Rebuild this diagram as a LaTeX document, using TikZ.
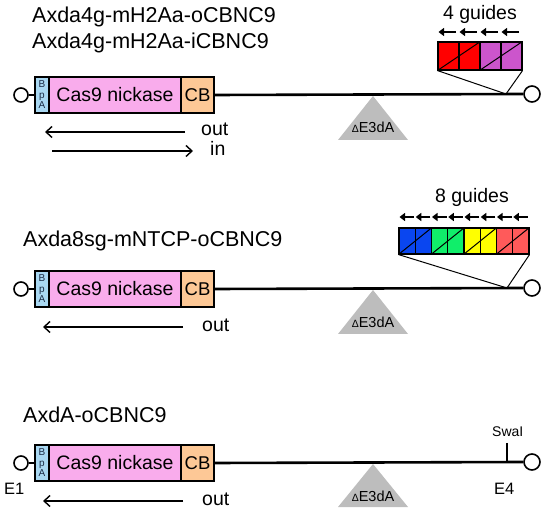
\documentclass[tikz,border=0pt]{standalone}
\usepackage{fontspec}
\setmainfont{Liberation Sans}
\usetikzlibrary{arrows.meta}
\definecolor{bpablue}{HTML}{A9D8F2}
\definecolor{bpatext}{HTML}{1A2A44}
\definecolor{caspink}{HTML}{F9ACEC}
\definecolor{cbpeach}{HTML}{FDC896}
\definecolor{trigray}{HTML}{BDBDBD}
\definecolor{gred}{HTML}{FF0000}
\definecolor{gpurple}{HTML}{CC55CC}
\definecolor{gblue}{HTML}{0A46F0}
\definecolor{ggreen}{HTML}{10EE6A}
\definecolor{gyellow}{HTML}{FFFF00}
\definecolor{gsalmon}{HTML}{FF5A5A}
\tikzset{
  fs/.style={font=\fontsize{#1}{#1}\selectfont},
  gbox/.style={draw=black, line width=1.8pt, inner sep=0pt, minimum height=36pt},
  bpabox/.style={gbox, fill=bpablue, minimum width=14pt, align=center, text=bpatext, font=\fontsize{10}{10.5}\selectfont},
  casbox/.style={gbox, fill=caspink, minimum width=132pt, fs=19.5},
  cbbox/.style={gbox, fill=cbpeach, minimum width=33pt, fs=18.5},
  endcirc/.style={circle, draw=black, line width=1.6pt, fill=white, inner sep=0pt, minimum size=#1},
  mainline/.style={line width=2.6pt},
  title/.style={anchor=base west, inner sep=0pt, fs=21.5},
  dirarrow/.style={line width=1.4pt, -{Straight Barb[length=6pt,width=11pt,line width=1.4pt]}},
  dirlabel/.style={anchor=base west, inner sep=0pt, fs=19.5},
  deltri/.style={fill=trigray},
  deltext/.style={anchor=base, inner sep=0pt, fs=14.5},
  gcell/.style={draw=black, line width=1.1pt, inner sep=0pt, minimum height=28pt},
  gcell8/.style={draw=black, line width=1.1pt, inner sep=0pt, minimum height=26pt, minimum width=16.25pt},
  garrow/.style={line width=2.2pt, -{Triangle[length=5.5pt,width=8pt]}},
  thinline/.style={line width=1pt},
  smalllabel/.style={anchor=base west, inner sep=0pt, fs=#1},
}
\begin{document}
\begin{tikzpicture}[x=1pt,y=-1pt]
\useasboundingbox (0,0) rectangle (550,516);

% ===== Row 1 =====
\node[title] (t1a) at (32,23) {Axda4g-mH2Aa-oCBNC9};
\node[title] (t1b) at (32,49) {Axda4g-mH2Aa-iCBNC9};
\node[bpabox] (bp1) at (42,95) {B\\p\\A};
\node[casbox] (cas1) at (115,95) {Cas9 nickase};
\node[cbbox] (cb1) at (197.5,95) {CB};
\node[endcirc=14pt] (lc1) at (21,95) {};
\node[endcirc=16pt] (rc1) at (532,94) {};
\draw[mainline] (lc1.east) -- (bp1.west);
\draw[mainline] (cb1.east) -- (rc1.west);
\fill[deltri] (373,96) -- (408,140) -- (338,140) -- cycle;
\node[deltext] (d1) at (373,133) {{\fontsize{10.5}{10.5}\selectfont Δ}E3dA};
\coordinate (o1s) at (185,132);
\coordinate (o1e) at (45,132);
\draw[dirarrow] (o1s) -- (o1e);
\node[dirlabel] (out1) at (201,136) {out};
\coordinate (i1s) at (52,151);
\coordinate (i1e) at (193,151);
\draw[dirarrow] (i1s) -- (i1e);
\node[dirlabel] (in1) at (210,156) {in};
% guides 4
\node[anchor=base, inner sep=0pt, fs=19.5] (g4t) at (480,20) {4 guides};
\foreach \i/\c in {0/gred,1/gred,2/gpurple,3/gpurple}{
  \node[gcell, minimum width=21pt, fill=\c] (ga\i) at ({448.5+21*\i},56) {};
  \coordinate (gas\i) at ({456+21*\i},32);
  \coordinate (gae\i) at ({438.5+21*\i},32);
  \draw[garrow] (gas\i) -- (gae\i);
}
\draw[line width=1.6pt] (ga0.north west) rectangle (ga3.south east);
\draw[thinline] (ga0.south west) -- (ga1.north east);
\draw[thinline] (ga2.south west) -- (ga3.north east);
\coordinate (v1) at (506,94);
\draw[thinline] (ga0.south west) -- (v1) -- (ga3.south east);

% ===== Row 2 =====
\node[title] (t2) at (23,247) {Axda8sg-mNTCP-oCBNC9};
\node[bpabox] (bp2) at (42,289) {B\\p\\A};
\node[casbox] (cas2) at (115,289) {Cas9 nickase};
\node[cbbox] (cb2) at (197.5,289) {CB};
\node[endcirc=14pt] (lc2) at (21,289) {};
\node[endcirc=16pt] (rc2) at (532,288) {};
\draw[mainline] (lc2.east) -- (bp2.west);
\draw[mainline] (cb2.east) -- (rc2.west);
\fill[deltri] (373,290) -- (408,334) -- (338,334) -- cycle;
\node[deltext] (d2) at (373,328) {{\fontsize{10.5}{10.5}\selectfont Δ}E3dA};
\coordinate (o2s) at (183,327);
\coordinate (o2e) at (43,327);
\draw[dirarrow] (o2s) -- (o2e);
\node[dirlabel] (out2) at (202,332) {out};
% guides 8
\node[anchor=base, inner sep=0pt, fs=19.5] (g8t) at (472,203) {8 guides};
\foreach \i/\c in {0/gblue,1/gblue,2/ggreen,3/ggreen,4/gyellow,5/gyellow,6/gsalmon,7/gsalmon}{
  \node[gcell8, fill=\c] (gb\i) at ({407.125+16.25*\i},241) {};
  \coordinate (gbs\i) at ({414+16.25*\i},217);
  \coordinate (gbe\i) at ({399.5+16.25*\i},217);
  \draw[garrow] (gbs\i) -- (gbe\i);
}
\draw[line width=1.6pt] (gb0.north west) rectangle (gb7.south east);
\foreach \a/\b in {0/1,2/3,4/5,6/7}{
  \draw[thinline] (gb\a.south west) -- (gb\b.north east);
}
\coordinate (v2) at (507,288);
\draw[thinline] (gb0.south west) -- (v2) -- (gb7.south east);

% ===== Row 3 =====
\node[title] (t3) at (23,423) {AxdA-oCBNC9};
\node[bpabox] (bp3) at (42,463) {B\\p\\A};
\node[casbox] (cas3) at (115,463) {Cas9 nickase};
\node[cbbox] (cb3) at (197.5,463) {CB};
\node[endcirc=14pt] (lc3) at (21,463) {};
\node[endcirc=16pt] (rc3) at (532,462) {};
\draw[mainline] (lc3.east) -- (bp3.west);
\draw[mainline] (cb3.east) -- (rc3.west);
\fill[deltri] (373,464) -- (408,507) -- (338,507) -- cycle;
\node[deltext] (d3) at (373,501) {{\fontsize{10.5}{10.5}\selectfont Δ}E3dA};
\coordinate (o3s) at (183,501);
\coordinate (o3e) at (43,501);
\draw[dirarrow] (o3s) -- (o3e);
\node[dirlabel] (out3) at (202,505) {out};
\node[smalllabel=16.5] (e1) at (4,494) {E1};
\node[smalllabel=16.5] (e4) at (494,494) {E4};
\coordinate (sw) at (507,443);
\coordinate (swb) at (507,462);
\draw[line width=1.2pt] (sw) -- (swb);
\node[smalllabel=14] (swl) at (492,437) {SwaI};
\end{tikzpicture}
\end{document}
